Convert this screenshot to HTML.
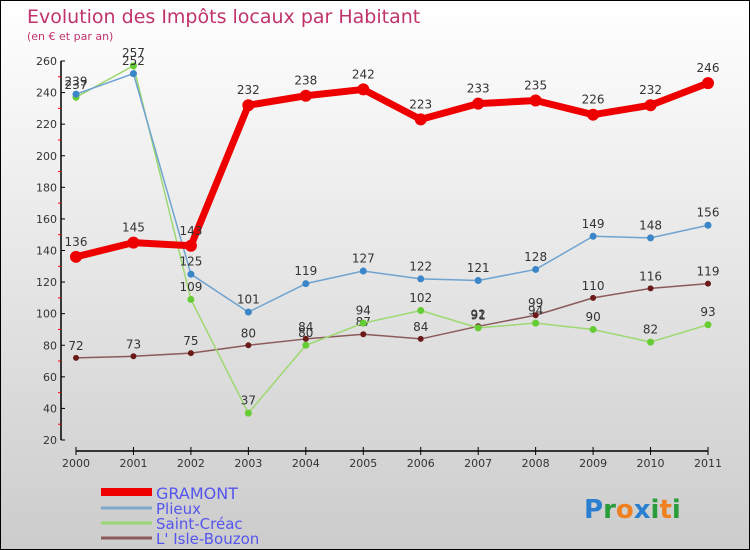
<!DOCTYPE html>
<html><head><meta charset="utf-8"><style>
body{margin:0}
#wrap{width:748px;height:548px;border:1px solid #000;background:linear-gradient(#fff,#ccc);position:relative;overflow:hidden;font-family:"DejaVu Sans","Liberation Sans",sans-serif}
svg text{font-family:"DejaVu Sans","Liberation Sans",sans-serif}
</style></head><body>
<div id="wrap">
<svg id="chart" width="748" height="548"></svg>
</div>
<script>
const years=["2000","2001","2002","2003","2004","2005","2006","2007","2008","2009","2010","2011"];
const gramont=[136,145,143,232,238,242,223,233,235,226,232,246];
const plieux=[239,252,125,101,119,127,122,121,128,149,148,156];
const saintCreac=[237,257,109,37,80,94,102,91,94,90,82,93];
const isleBouzon=[72,73,75,80,84,87,84,92,99,110,116,119];
const yTicks=[20,40,60,80,100,120,140,160,180,200,220,240,260];
const seriesNames=["GRAMONT","Plieux","Saint-Créac","L' Isle-Bouzon"];

const NS="http://www.w3.org/2000/svg";
const svg=document.getElementById('chart');
function xs(i){return 75+i*(632/11);}
function ys(v){return 439-(v-20)*(379/240);}
function el(t,a,p){const e=document.createElementNS(NS,t);for(const k in a)e.setAttribute(k,a[k]);(p||svg).appendChild(e);return e;}
function txt(x,y,s,a){const e=el('text',Object.assign({x:x,y:y},a));e.textContent=s;return e;}

const title=txt(26,22,"Evolution des Impôts locaux par Habitant",{fill:"#c0336a","font-size":"19"});


const sub=txt(26,39,"(en € et par an)",{fill:"#c0336a","font-size":"11"});



// y axis
const yax=el('line',{x1:60,y1:ys(260),x2:60,y2:ys(20),stroke:"#000","stroke-width":1.5});


yTicks.forEach((v,i)=>{
  el('line',{x1:60,y1:ys(v),x2:64,y2:ys(v),stroke:"#000"});
  const t=txt(56,ys(v)+4,String(v),{"text-anchor":"end","font-size":"11",fill:"#333"});
  
  
  if(i<yTicks.length-1) el('line',{x1:57,y1:ys(v+10),x2:60,y2:ys(v+10),stroke:"#e00"});
});
// x axis
const xax=el('line',{x1:75,y1:450,x2:707,y2:450,stroke:"#000","stroke-width":1.5});


years.forEach((y,i)=>{
  el('line',{x1:xs(i),y1:446,x2:xs(i),y2:454,stroke:"#000"});
  const t=txt(xs(i),466,y,{"text-anchor":"middle","font-size":"11",fill:"#333"});
  
  
});

function series(data,color,dot,w,r,name){
  const g=el('g',{});
  
  
  el('polyline',{points:data.map((v,i)=>xs(i)+","+ys(v)).join(" "),fill:"none",stroke:color,"stroke-width":w,"stroke-linejoin":"round"},g);
  data.forEach((v,i)=>{
    const c=el('circle',{cx:xs(i),cy:ys(v),r:r,fill:dot},g);
    
    
    const t=txt(xs(i),ys(v)-r-5,String(v),{"text-anchor":"middle","font-size":"12",fill:"#333"},g);
    
    
  });
}
series(isleBouzon,"#8b5a5a","#6b1a1a",1.5,3,"isle-bouzon-series");
series(saintCreac,"#9ed870","#66cc33",1.5,3.5,"saint-creac-series");
series(plieux,"#6fa3d0","#3a86c8",1.5,3.5,"plieux-series");
series(gramont,"#ee0000","#ee0000",7,6,"gramont-series");

// legend
const lc=["#ee0000","#7fa8cc","#99d877","#8b5a5a"];
const lw=[8,3,3,3];
const ly=[492,508,523,538];
seriesNames.forEach((n,i)=>{
  const g=el('g',{});
  
  
  el('line',{x1:100,y1:ly[i]-1,x2:151,y2:ly[i]-1,stroke:lc[i],"stroke-width":lw[i]},g);
  txt(155,ly[i]+(i==0?6:5),n,{"font-size":i==0?"16":"15",fill:"#5555ee"},g);
});
// logo
const lg=el('text',{x:583,y:517,"font-size":"26","font-weight":"bold"});


[["P","#2a7fd0"],["r","#2a9d3a"],["o","#f08020"],["x","#2a7fd0"],["i","#2a9d3a"],["t","#f08020"],["i","#2a9d3a"]].forEach(([c,f])=>{const s=el('tspan',{fill:f},lg);s.textContent=c;});
</script>
</body></html>
